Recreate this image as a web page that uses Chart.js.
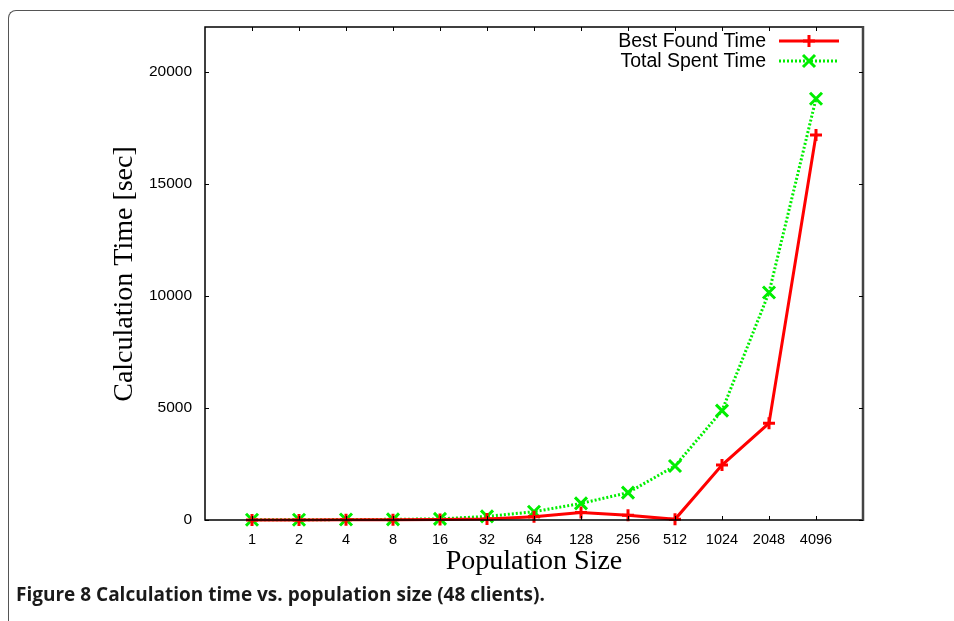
<!DOCTYPE html>
<html>
<head>
<meta charset="utf-8">
<script src="https://cdn.jsdelivr.net/npm/chart.js@4.4.1/dist/chart.umd.min.js"></script>
<style>
  html, body { margin: 0; padding: 0; background: #fff; }
  #wrap { position: relative; width: 954px; height: 621px; overflow: hidden; }
  #frame {
    position: absolute; left: 8px; top: 10px; width: 1000px; height: 700px;
    border-left: 1.5px solid #555; border-top: 1.5px solid #555;
    border-top-left-radius: 8px; box-sizing: border-box;
  }
  #chart { position: absolute; left: 0; top: 0; }
  #caption {
    position: absolute; left: 16px; top: 581px;
    font-family: "Open Sans", "Noto Sans", sans-serif; font-weight: 700;
    font-size: 19px; color: #1a1a1a; white-space: nowrap; letter-spacing: 0px;
  }
</style>
</head>
<body>
<div id="wrap">
  <div id="frame"></div>
  <canvas id="chart" width="954" height="621"></canvas>
  <div id="caption">Figure 8 Calculation time vs. population size (48 clients).</div>
</div>
<script>
// Population sizes (x categories, powers of two)
const populationSizes = ['1', '2', '4', '8', '16', '32', '64', '128', '256', '512', '1024', '2048', '4096'];
// Calculation time in seconds
const bestFoundTime  = [5, 5, 10, 15, 25, 50, 150, 330, 210, 30, 2450, 4320, 17180];
const totalSpentTime = [10, 10, 20, 30, 50, 160, 370, 740, 1220, 2410, 4880, 10150, 18800];
const yTickValues = [0, 5000, 10000, 15000, 20000];

const seriesNames = ['Best Found Time', 'Total Spent Time'];
const xTitle = 'Population Size';
const yTitle = 'Calculation Time [sec]';

const toPoints = arr => arr.map((v, i) => ({ x: i, y: v }));

// Inward tick marks, plot frame, axis titles and key
const decorations = {
  id: 'decorations',
  afterDraw(chart) {
    const { ctx, chartArea: a, scales: { x, y } } = chart;
    ctx.save();
    // frame
    ctx.strokeStyle = '#000';
    ctx.lineWidth = 1.5;
    ctx.beginPath();
    ctx.moveTo(a.right, a.top); ctx.lineTo(a.left, a.top);
    ctx.lineTo(a.left, a.bottom); ctx.lineTo(a.right, a.bottom);
    ctx.stroke();
    ctx.strokeStyle = '#444';
    ctx.lineWidth = 2.5;
    ctx.beginPath();
    ctx.moveTo(a.right, a.top - 1); ctx.lineTo(a.right, a.bottom + 1);
    ctx.stroke();
    // ticks
    ctx.strokeStyle = '#000';
    ctx.lineWidth = 1;
    const tl = 4;
    ctx.beginPath();
    populationSizes.forEach((_, i) => {
      const px = Math.round(x.getPixelForValue(i)) + 0.5;
      ctx.moveTo(px, a.bottom); ctx.lineTo(px, a.bottom - tl);
      ctx.moveTo(px, a.top); ctx.lineTo(px, a.top + tl);
    });
    yTickValues.forEach(v => {
      const py = Math.round(y.getPixelForValue(v)) + 0.5;
      ctx.moveTo(a.left, py); ctx.lineTo(a.left + tl, py);
      ctx.moveTo(a.right, py); ctx.lineTo(a.right - tl, py);
    });
    ctx.stroke();

    // axis titles
    ctx.fillStyle = '#000';
    ctx.font = '28px "Liberation Serif", "Times New Roman", serif';
    ctx.textAlign = 'center';
    ctx.textBaseline = 'alphabetic';
    ctx.fillText(xTitle, (a.left + a.right) / 2, 569);
    ctx.save();
    ctx.translate(132, 274);
    ctx.rotate(-Math.PI / 2);
    ctx.fillText(yTitle, 0, 0);
    ctx.restore();

    // key
    ctx.font = '19.5px "Liberation Sans", Arial, sans-serif';
    ctx.textAlign = 'right';
    ctx.textBaseline = 'middle';
    const keyY = [41, 61];
    chart.data.datasets.forEach((ds, i) => {
      const ky = keyY[i];
      ctx.fillStyle = '#000';
      ctx.fillText(ds.label, 766, ky + 1);
      ctx.strokeStyle = ds.borderColor;
      ctx.lineWidth = ds.borderWidth;
      ctx.setLineDash(ds.borderDash || []);
      ctx.beginPath();
      ctx.moveTo(779, ky); ctx.lineTo(839, ky);
      ctx.stroke();
      ctx.setLineDash([]);
      Chart.helpers.drawPoint(ctx, {
        pointStyle: ds.pointStyle, radius: ds.pointRadius, rotation: 0,
        borderWidth: ds.pointBorderWidth
      }, 809, ky);
    });
    ctx.restore();
  }
};

new Chart(document.getElementById('chart'), {
  type: 'line',
  data: {
    datasets: [
      {
        label: seriesNames[0],
        data: toPoints(bestFoundTime),
        borderColor: '#ff0000',
        backgroundColor: '#ff0000',
        borderWidth: 3,
        pointStyle: 'cross',
        pointRadius: 6,
        pointBorderWidth: 3,
        pointBorderColor: '#ff0000',
        tension: 0,
        clip: false,
        order: 0
      },
      {
        label: seriesNames[1],
        data: toPoints(totalSpentTime),
        borderColor: '#00ee00',
        backgroundColor: '#00ee00',
        borderWidth: 3,
        borderDash: [2, 2],
        borderCapStyle: 'butt',
        pointStyle: 'crossRot',
        pointRadius: 8.5,
        pointBorderWidth: 3,
        pointBorderColor: '#00ee00',
        tension: 0,
        clip: false,
        order: 1
      }
    ]
  },
  options: {
    responsive: false,
    animation: false,
    events: [],
    layout: { padding: { left: 0, top: 27, right: 91, bottom: 0 } },
    plugins: { legend: { display: false }, tooltip: { enabled: false } },
    scales: {
      x: {
        type: 'linear',
        min: -1,
        max: 13,
        afterFit(scale) { scale.height = 101; },
        afterBuildTicks(scale) {
          scale.ticks = populationSizes.map((_, i) => ({ value: i }));
        },
        ticks: {
          autoSkip: false,
          maxRotation: 0,
          padding: 11,
          color: '#000',
          font: { family: '"Liberation Sans", Arial, sans-serif', size: 14.5 },
          callback: v => populationSizes[v] ?? ''
        },
        grid: { display: false, drawTicks: false },
        border: { display: false }
      },
      y: {
        min: 0,
        max: 22000,
        afterFit(scale) { scale.width = 205; },
        afterBuildTicks(scale) {
          scale.ticks = yTickValues.map(v => ({ value: v }));
        },
        ticks: {
          padding: 13,
          color: '#000',
          font: { family: '"Liberation Sans", Arial, sans-serif', size: 15.5 },
          callback: v => String(v)
        },
        grid: { display: false, drawTicks: false },
        border: { display: false }
      }
    }
  },
  plugins: [decorations]
});
</script>
</body>
</html>
